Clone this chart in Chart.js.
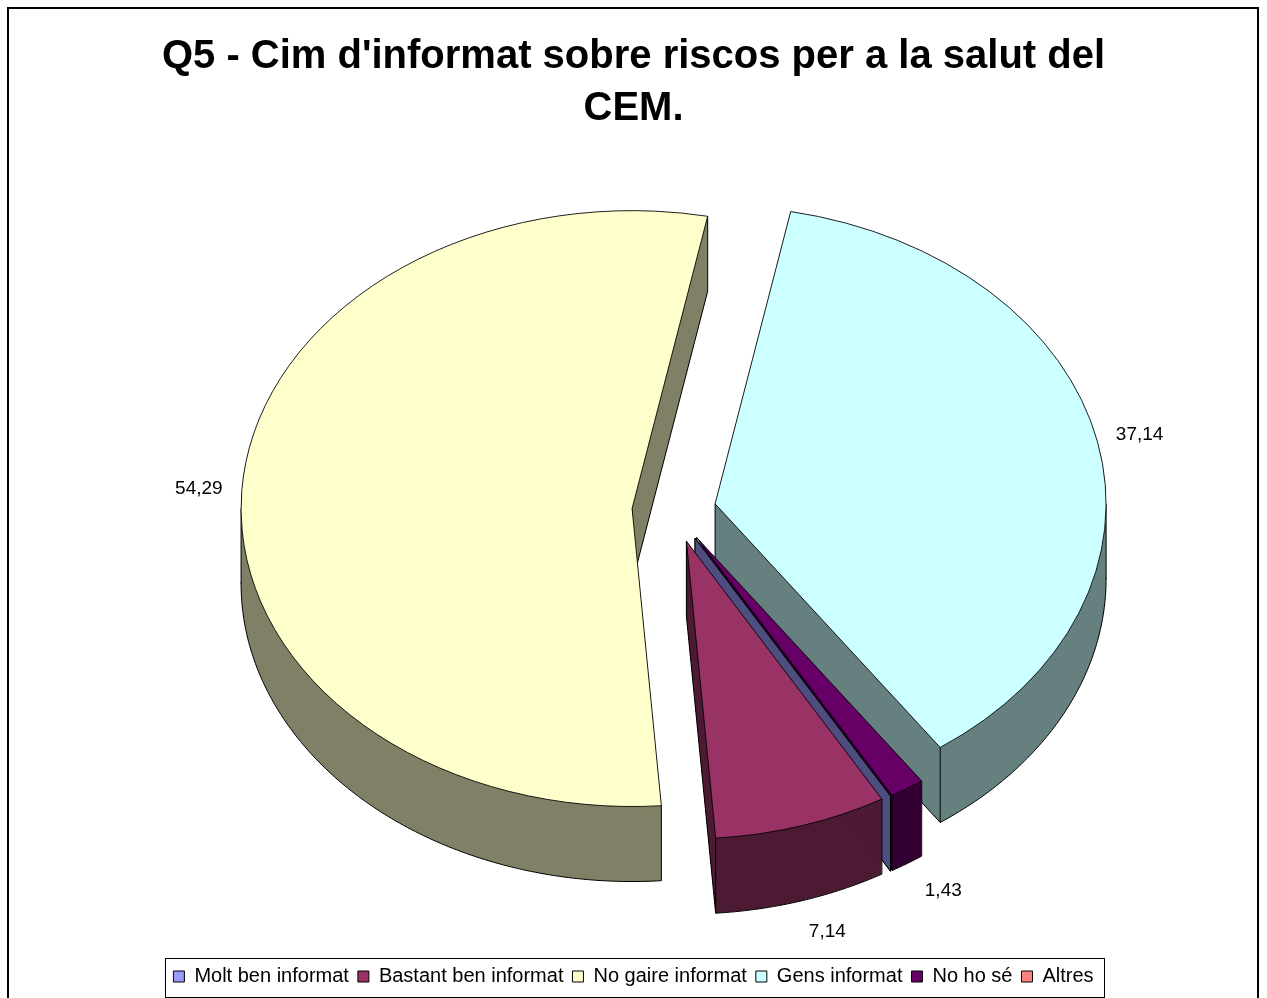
<!DOCTYPE html>
<html>
<head>
<meta charset="utf-8">
<script src="https://cdn.jsdelivr.net/npm/chart.js@4.4.1/dist/chart.umd.min.js"></script>
<style>
  html, body { margin: 0; padding: 0; background: #fff; }
  canvas { display: block; }
</style>
</head>
<body>
<canvas id="q5" width="1267" height="998"></canvas>
<script>
// Chart data: categories, values and colours
const categories = ["Molt ben informat", "Bastant ben informat", "No gaire informat", "Gens informat", "No ho sé", "Altres"];
const values = [0, 7.14, 54.29, 37.14, 1.43, 0];
const topColors = ["#9999FF", "#993366", "#FFFFCC", "#CCFFFF", "#660066", "#FF8080"];
const sideColors = ["#4D4D80", "#4D1A33", "#808066", "#668080", "#330033", "#804040"];
const titleLines = ["Q5 - Cim d'informat sobre riscos per a la salut del", "CEM."];

// 3D look
const DEPTH = 75;       // thickness of the pie
const TILT = 0.762;     // vertical squash of the top face
const EXPLODE = 42;     // how far each slice is pulled out
const LABEL_GAP = 434;  // label distance from the slice tip
const LEFT_GAP = 81;    // pushes the pie to the right of the title/legend centre
const FONT = "'Liberation Sans', Arial, sans-serif";

Chart.defaults.font.family = FONT;
Chart.defaults.color = "#000";

// maps a point of the flat pie onto the tilted disc
function toScreen(px, py, cy, drop) {
    return [px, cy - DEPTH / 2 + drop + (py - cy) * TILT];
}

function tilt(ctx, cy, drop) {
    ctx.translate(0, cy - DEPTH / 2 + drop);
    ctx.scale(1, TILT);
    ctx.translate(0, -cy);
}

function line(ctx, p, q) {
    ctx.beginPath();
    ctx.moveTo(p[0], p[1]);
    ctx.lineTo(q[0], q[1]);
    ctx.stroke();
}

// side walls of one slice (outer wall + visible cut faces)
function drawSide(ctx, arc, color, cy) {
    const x = arc.x, y = arc.y, r = arc.outerRadius;
    const a0 = arc.startAngle, a1 = arc.endAngle;
    const rim = (t, d) => toScreen(x + Math.cos(t) * r, y + Math.sin(t) * r, cy, d);
    const apex = (d) => toScreen(x, y, cy, d);
    const startFace = Math.sin(a0 - Math.PI / 2) > 0;
    const endFace = Math.sin(a1 + Math.PI / 2) > 0;

    ctx.save();
    ctx.fillStyle = color;
    ctx.strokeStyle = "#000";
    ctx.lineWidth = 1;

    if (a1 - a0 < 1e-6) {
        // empty slice: only its cut face shows
        const p = [apex(0), rim(a0, 0), rim(a0, DEPTH), apex(DEPTH)];
        ctx.beginPath();
        ctx.moveTo(p[0][0], p[0][1]);
        for (let i = 1; i < 4; i++) ctx.lineTo(p[i][0], p[i][1]);
        ctx.closePath();
        ctx.fill();
        ctx.stroke();
        ctx.restore();
        return;
    }

    // stack the slice down to build the wall
    for (let d = 1; d <= DEPTH; d++) {
        ctx.save();
        tilt(ctx, cy, d);
        ctx.beginPath();
        ctx.moveTo(x, y);
        ctx.arc(x, y, r, a0, a1);
        ctx.closePath();
        ctx.restore();
        ctx.fill();
    }

    // bottom rim, front half only
    const steps = Math.max(4, Math.ceil((a1 - a0) * 80));
    let pen = false;
    ctx.beginPath();
    for (let k = 0; k <= steps; k++) {
        const t = a0 + (a1 - a0) * k / steps;
        const p = rim(t, DEPTH);
        if (Math.sin(t) > -0.01) {
            if (pen) ctx.lineTo(p[0], p[1]); else ctx.moveTo(p[0], p[1]);
            pen = true;
        } else {
            pen = false;
        }
    }
    ctx.stroke();

    // edges of the cut faces
    if (startFace) line(ctx, apex(DEPTH), rim(a0, DEPTH));
    if (endFace) line(ctx, apex(DEPTH), rim(a1, DEPTH));
    if (startFace || endFace) line(ctx, apex(0), apex(DEPTH));
    if (startFace || Math.sin(a0) > 0) line(ctx, rim(a0, 0), rim(a0, DEPTH));
    if (endFace || Math.sin(a1) > 0) line(ctx, rim(a1, 0), rim(a1, DEPTH));
    for (let k = Math.ceil(a0 / Math.PI); k * Math.PI < a1; k++) {
        line(ctx, rim(k * Math.PI, 0), rim(k * Math.PI, DEPTH));
    }
    ctx.restore();
}

const pie3d = {
    id: "pie3d",
    beforeInit(chart) {
        // empty box on the left so only the pie moves right
        Chart.layouts.addBox(chart, {
            position: "left",
            weight: 0,
            fullSize: false,
            options: {},
            isHorizontal() { return false; },
            update(maxWidth, maxHeight) {
                this.width = LEFT_GAP;
                this.height = maxHeight;
            },
            draw() {}
        });
    },
    afterDatasetUpdate(chart, args) {
        // pull every slice out along its middle angle
        for (const arc of args.meta.data) {
            const mid = (arc.startAngle + arc.endAngle) / 2;
            arc.x += Math.cos(mid) * EXPLODE;
            arc.y += Math.sin(mid) * EXPLODE;
        }
    },
    beforeDraw(chart) {
        const ctx = chart.ctx;
        ctx.save();
        ctx.fillStyle = "#fff";
        ctx.fillRect(0, 0, chart.width, chart.height);
        ctx.strokeStyle = "#000";
        ctx.lineWidth = 2;
        ctx.strokeRect(8, 8, 1250, 1100);
        ctx.restore();
    },
    beforeDatasetsDraw(chart) {
        const ctx = chart.ctx;
        const area = chart.chartArea;
        const cy = (area.top + area.bottom) / 2;
        const arcs = chart.getDatasetMeta(0).data;
        // back slices first
        const order = arcs.map((a, i) => i).sort((i, j) => {
            const si = Math.sin((arcs[i].startAngle + arcs[i].endAngle) / 2);
            const sj = Math.sin((arcs[j].startAngle + arcs[j].endAngle) / 2);
            return Math.abs(si - sj) > 1e-6 ? si - sj : j - i;
        });
        for (const i of order) drawSide(ctx, arcs[i], sideColors[i], cy);
        // top faces are drawn by Chart.js on the tilted context
        ctx.save();
        tilt(ctx, cy, 0);
    },
    afterDatasetsDraw(chart) {
        const ctx = chart.ctx;
        ctx.restore();
        const area = chart.chartArea;
        const cy = (area.top + area.bottom) / 2;
        const arcs = chart.getDatasetMeta(0).data;
        ctx.save();
        ctx.font = "19px " + FONT;
        ctx.fillStyle = "#000";
        ctx.textAlign = "center";
        ctx.textBaseline = "middle";
        arcs.forEach((arc, i) => {
            if (!values[i]) return;
            const mid = (arc.startAngle + arc.endAngle) / 2;
            const s = Math.sin(mid);
            const p = toScreen(arc.x + Math.cos(mid) * LABEL_GAP, arc.y + s * LABEL_GAP, cy, s > 0 ? DEPTH : 0);
            // labels under the front wall sit a little to the right
            ctx.fillText(values[i].toFixed(2).replace(".", ","), p[0] + (s > 0 ? 13 : 0), p[1]);
        });
        ctx.restore();
    },
    afterDraw(chart) {
        // frame round the legend
        const boxes = chart.legend.legendHitBoxes;
        const left = Math.min(...boxes.map(b => b.left)) - 8;
        const right = Math.max(...boxes.map(b => b.left + b.width)) + 11;
        const mid = boxes[0].top + boxes[0].height / 2;
        const ctx = chart.ctx;
        ctx.save();
        ctx.strokeStyle = "#000";
        ctx.lineWidth = 1;
        ctx.strokeRect(Math.round(left) + 0.5, Math.round(mid - 19) + 0.5, Math.round(right - left), 39);
        ctx.restore();
    }
};

new Chart(document.getElementById("q5"), {
    type: "pie",
    data: {
        labels: categories,
        datasets: [{
            data: values,
            backgroundColor: topColors,
            borderColor: "#000",
            borderWidth: 1,
            clip: false
        }]
    },
    options: {
        responsive: false,
        animation: false,
        rotation: 150,
        radius: 391,
        layout: { padding: { bottom: 1.5 } },
        plugins: {
            title: {
                display: true,
                text: titleLines,
                color: "#000",
                font: { size: 40, weight: "bold", lineHeight: 52 / 40 },
                padding: { top: 31, bottom: 3.5 }
            },
            legend: {
                position: "bottom",
                labels: {
                    boxWidth: 11,
                    boxHeight: 11,
                    padding: 9,
                    color: "#000",
                    font: { size: 20 }
                }
            },
            tooltip: { enabled: false }
        }
    },
    plugins: [pie3d]
});
</script>
</body>
</html>
